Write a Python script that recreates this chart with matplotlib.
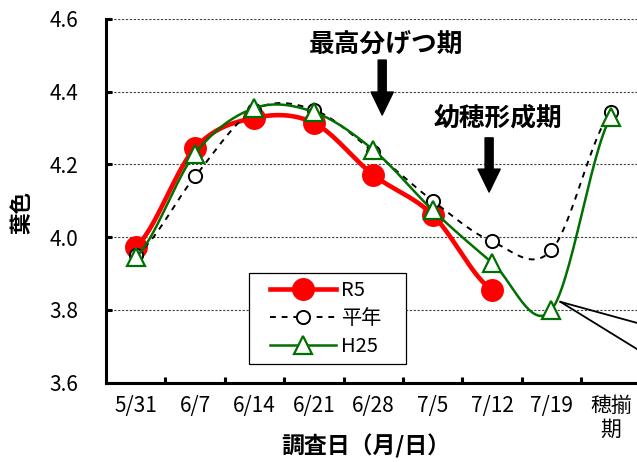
import numpy as np
import matplotlib
matplotlib.use('Agg')
import matplotlib.pyplot as plt
from matplotlib.ticker import FixedLocator, NullFormatter
from matplotlib.legend_handler import HandlerLine2D

plt.rcParams['font.family'] = ['Noto Sans CJK JP', 'DejaVu Sans']

# データ
dates = ['5/31', '6/7', '6/14', '6/21', '6/28', '7/5', '7/12', '7/19', '穂揃\n期']
r5 = [3.973, 4.245, 4.328, 4.314, 4.171, 4.061, 3.855]
heinen = [3.95, 4.167, 4.35, 4.35, 4.235, 4.10, 3.988, 3.964, 4.344]
h25 = [3.945, 4.23, 4.355, 4.344, 4.24, 4.074, 3.93, 3.80, 4.33]

yticks = [3.6, 3.8, 4.0, 4.2, 4.4, 4.6]

# 生育ステージの矢印 (x位置, 矢印の始点y, 終点y, 文字のx, 文字のy)
stage_labels = ['最高分げつ期', '幼穂形成期']
stage_x = [4.15, 5.95]
stage_y_from = [4.487, 4.273]
stage_y_to = [4.336, 4.124]
stage_text_x = [4.21, 6.10]
stage_text_y = [4.528, 4.328]

# 右下の引き出し線
callout_start = (7.15, 3.822)
callout_ends = [(8.44, 3.764), (8.44, 3.692)]


def smooth(y, n=30):
    # Excel風のなめらかな線 (Catmull-Rom)
    y = np.asarray(y, dtype=float)
    p = np.concatenate([[y[0]], y, [y[-1]]])
    xs, ys = [], []
    for i in range(len(y) - 1):
        t = np.linspace(0, 1, n, endpoint=False)
        p0, p1, p2, p3 = p[i], p[i + 1], p[i + 2], p[i + 3]
        m1 = (p2 - p0) / 2
        m2 = (p3 - p1) / 2
        h00 = 2 * t**3 - 3 * t**2 + 1
        h10 = t**3 - 2 * t**2 + t
        h01 = -2 * t**3 + 3 * t**2
        h11 = t**3 - t**2
        xs.append(i + t)
        ys.append(h00 * p1 + h10 * m1 + h01 * p2 + h11 * m2)
    xs.append([len(y) - 1])
    ys.append([y[-1]])
    return np.concatenate(xs), np.concatenate(ys)


fig = plt.figure(figsize=(6.37, 4.62), dpi=100)
ax = fig.add_axes([0.1664, 0.172, 0.8336, 0.7869])

x_r5 = np.arange(len(r5))
x_all = np.arange(len(dates))

sx, sy = smooth(r5)
ax.plot(sx, sy, color='#ff0000', lw=3.3, zorder=3)
ax.plot(x_r5, r5, ls='none', marker='o', ms=15.5, color='#ff0000', zorder=3)

sx, sy = smooth(heinen)
ax.plot(sx, sy, color='black', lw=1.4, ls=(0, (3, 3)), zorder=4)
ax.plot(x_all, heinen, ls='none', marker='o', ms=9.5, mfc='white', mec='black',
        mew=1.4, zorder=4)

sx, sy = smooth(h25)
ax.plot(sx, sy, color='#007000', lw=1.8, zorder=5)
ax.plot(x_all, h25, ls='none', marker='^', ms=13, mfc='white', mec='#007000',
        mew=1.6, zorder=5)

# 凡例用
h1, = ax.plot([], [], color='#ff0000', lw=3.3, marker='o', ms=15.5)
h2, = ax.plot([], [], color='black', lw=1.4, ls=(0, (3, 3)), marker='o', ms=9.5,
              mfc='white', mec='black', mew=1.4)
h3, = ax.plot([], [], color='#007000', lw=1.8, marker='^', ms=13, mfc='white',
              mec='#007000', mew=1.6)
hmap = {h: HandlerLine2D(xpad=0.7) for h in (h1, h2, h3)}
leg = ax.legend([h1, h2, h3], ['R5', '平年', 'H25'], loc='lower left',
                bbox_to_anchor=(0.269, 0.051, 0.2957, 0.25), mode='expand',
                borderaxespad=0, fontsize=14.5, handler_map=hmap,
                handlelength=4.0, handletextpad=0.25, labelspacing=0.35,
                borderpad=0.35, fancybox=False, framealpha=1, edgecolor='black')
leg.get_frame().set_linewidth(0.9)
leg.set_zorder(6)

# 矢印と文字
for lab, x, y0, y1, tx, ty in zip(stage_labels, stage_x, stage_y_from, stage_y_to,
                                  stage_text_x, stage_text_y):
    ax.annotate('', xy=(x, y1), xytext=(x, y0),
                arrowprops=dict(arrowstyle='simple,head_width=16,head_length=16.5,tail_width=5.8',
                                color='black', mutation_scale=1, shrinkA=0, shrinkB=0))
    ax.text(tx, ty, lab, fontsize=18.5, fontweight='bold', ha='center', va='center')

for end in callout_ends:
    ax.plot([callout_start[0], end[0]], [callout_start[1], end[1]], color='black',
            lw=1.3, clip_on=False, zorder=2)

ax.set_xlim(-0.5, 8.44)
ax.set_ylim(3.6, 4.6)
ax.set_yticks(yticks)
ax.set_yticklabels([f'{v:.1f}' for v in yticks])
ax.set_xticks(x_all)
ax.set_xticklabels(dates, fontsize=15, linespacing=1.1, va='top')
ax.xaxis.set_minor_locator(FixedLocator(np.arange(0.5, 8.0, 1.0)))
ax.xaxis.set_minor_formatter(NullFormatter())

ax.tick_params(axis='x', which='major', length=0, pad=9)
ax.tick_params(axis='x', which='minor', direction='in', length=4, width=2.2)
ax.tick_params(axis='y', direction='in', length=4, width=2.2, labelsize=15, pad=20)

ax.grid(axis='y', color='#404040', lw=0.8, ls=(0, (2, 1.5)))
ax.set_axisbelow(True)

for s in ['top', 'right']:
    ax.spines[s].set_visible(False)
for s in ['left', 'bottom']:
    ax.spines[s].set_linewidth(2.2)
    ax.spines[s].set_zorder(7)

ax.set_xlabel('調査日（月/日）', fontsize=16.5, fontweight='bold')
ax.xaxis.set_label_coords(0.49, -0.177)
ax.xaxis.label.set_va('center')
ax.set_ylabel('葉色', fontsize=15.5, fontweight='bold')
ax.yaxis.set_label_coords(-0.159, 0.469)
ax.yaxis.label.set_va('center')

fig.savefig('out.png', dpi=100)
